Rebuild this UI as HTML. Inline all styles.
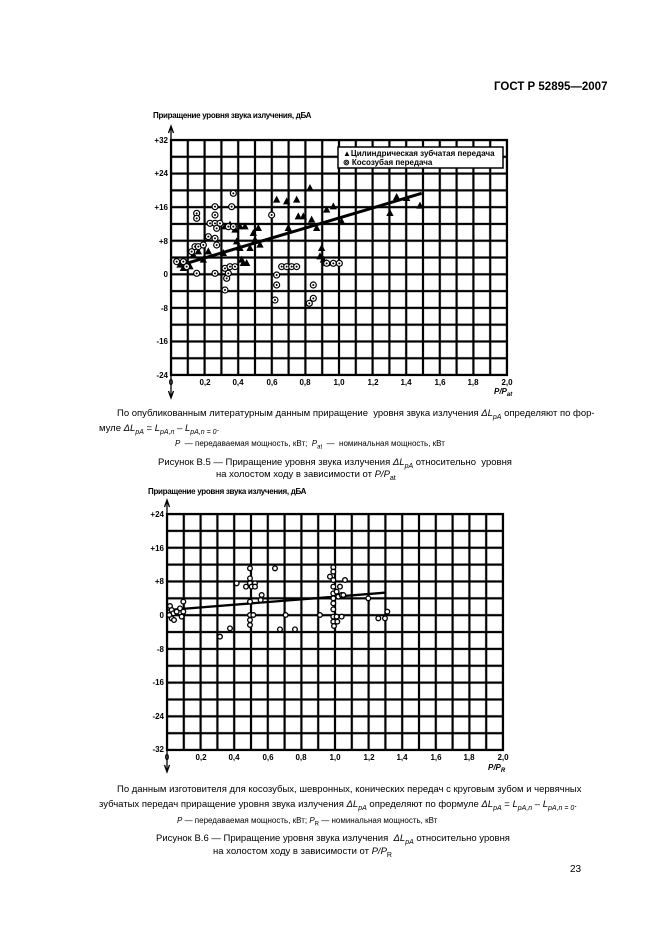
<!DOCTYPE html>
<html><head><meta charset="utf-8"><style>
body{margin:0;background:#fff;width:661px;height:936px;overflow:hidden;position:relative;font-family:"Liberation Sans",Arial,sans-serif;color:#000}
.t{position:absolute;white-space:nowrap}
</style></head><body>
<div class="t" style="left:494px;top:81px;font-size:11.5px;font-weight:bold">ГОСТ Р 52895—2007</div>
<div class="t" style="left:153px;top:111px;font-size:8px;font-weight:bold;letter-spacing:-0.3px">Приращение уровня звука излучения, дБА</div>
<div class="t" style="left:148px;top:487px;font-size:8px;font-weight:bold;letter-spacing:-0.3px">Приращение уровня звука излучения, дБА</div>
<svg width="661" height="936" style="position:absolute;left:0;top:0">
<defs>
<pattern id="g1" x="162.6" y="131.6" width="16.8" height="16.79" patternUnits="userSpaceOnUse"><path d="M0 8.4H16.8M8.4 0V16.8" stroke="#000" stroke-width="2.2" fill="none"/></pattern>
<pattern id="g2" x="158.6" y="505.6" width="16.8" height="16.86" patternUnits="userSpaceOnUse"><path d="M0 8.4H16.8M8.4 0V16.8" stroke="#000" stroke-width="2.2" fill="none"/></pattern>
<path id="tri" d="M0 -13L11 8H-11Z" fill="#000"/>
<g id="cir"><circle r="9" fill="#fff" stroke="#000" stroke-width="3.5"/><circle r="3" fill="#000"/></g>
<circle id="c2" r="7" fill="#fff" stroke="#000" stroke-width="4"/>
</defs>
<rect x="171" y="140" width="336" height="235" fill="url(#g1)" stroke="#000" stroke-width="2.2"/>
<rect x="167" y="514" width="336" height="236" fill="url(#g2)" stroke="#000" stroke-width="2.2"/>
<path d="M171 128V398M168.5 133L171 126L173.5 133M168.5 391L171 398L173.5 391" stroke="#000" stroke-width="1.3" fill="none"/>
<path d="M167 502V772M164.5 507L167 500L169.5 507M164.5 765L167 772L169.5 765" stroke="#000" stroke-width="1.3" fill="none"/>
<rect x="338" y="147" width="165" height="21" fill="#fff" stroke="#000" stroke-width="1.5"/>
<g font-size="8" font-weight="bold" font-family="Liberation Sans,sans-serif">
<text x="343" y="156">▲Цилиндрическая зубчатая передача</text>
<text x="343" y="165">⊚ Косозубая передача</text>
<g text-anchor="end">
<text x="168" y="143">+32</text><text x="168" y="176">+24</text><text x="168" y="210">+16</text><text x="168" y="244">+8</text><text x="168" y="277">0</text><text x="168" y="311">-8</text><text x="168" y="344">-16</text><text x="168" y="378">-24</text>
<text x="164" y="517">+24</text><text x="164" y="551">+16</text><text x="164" y="584">+8</text><text x="164" y="618">0</text><text x="164" y="652">-8</text><text x="164" y="685">-16</text><text x="164" y="719">-24</text><text x="164" y="752">-32</text>
</g>
<g text-anchor="middle">
<text x="171" y="385">0</text><text x="205" y="385">0,2</text><text x="238" y="385">0,4</text><text x="272" y="385">0,6</text><text x="305" y="385">0,8</text><text x="339" y="385">1,0</text><text x="373" y="385">1,2</text><text x="406" y="385">1,4</text><text x="440" y="385">1,6</text><text x="473" y="385">1,8</text><text x="507" y="385">2,0</text>
<text x="167" y="760">0</text><text x="201" y="760">0,2</text><text x="234" y="760">0,4</text><text x="268" y="760">0,6</text><text x="301" y="760">0,8</text><text x="335" y="760">1,0</text><text x="369" y="760">1,2</text><text x="402" y="760">1,4</text><text x="436" y="760">1,6</text><text x="469" y="760">1,8</text><text x="503" y="760">2,0</text>
</g>
<text x="494" y="394" font-style="italic">P/P<tspan font-size="6" dy="2">at</tspan></text>
<text x="488" y="770" font-style="italic">P/P<tspan font-size="6" dy="2">R</tspan></text>
</g>
<g transform="translate(140,100) scale(0.3333)">
<line x1="140" y1="490" x2="845" y2="280" stroke="#000" stroke-width="9"/>
<g>
<use href="#tri" x="120" y="495"/><use href="#tri" x="130" y="505"/><use href="#tri" x="140" y="490"/><use href="#tri" x="150" y="500"/><use href="#tri" x="160" y="465"/><use href="#tri" x="175" y="455"/><use href="#tri" x="190" y="480"/><use href="#tri" x="205" y="455"/><use href="#tri" x="250" y="460"/><use href="#tri" x="255" y="380"/><use href="#tri" x="270" y="375"/><use href="#tri" x="285" y="390"/><use href="#tri" x="300" y="380"/><use href="#tri" x="315" y="380"/><use href="#tri" x="290" y="425"/><use href="#tri" x="300" y="445"/><use href="#tri" x="305" y="480"/><use href="#tri" x="310" y="490"/><use href="#tri" x="320" y="490"/><use href="#tri" x="330" y="445"/><use href="#tri" x="345" y="420"/><use href="#tri" x="340" y="400"/><use href="#tri" x="355" y="385"/><use href="#tri" x="360" y="435"/><use href="#tri" x="410" y="300"/><use href="#tri" x="440" y="305"/><use href="#tri" x="470" y="300"/><use href="#tri" x="475" y="350"/><use href="#tri" x="490" y="350"/><use href="#tri" x="445" y="385"/><use href="#tri" x="510" y="265"/><use href="#tri" x="515" y="360"/><use href="#tri" x="530" y="385"/><use href="#tri" x="545" y="445"/><use href="#tri" x="560" y="330"/><use href="#tri" x="580" y="320"/><use href="#tri" x="605" y="365"/><use href="#tri" x="750" y="340"/><use href="#tri" x="770" y="292"/><use href="#tri" x="800" y="295"/><use href="#tri" x="840" y="318"/><use href="#tri" x="540" y="470"/><use href="#tri" x="550" y="480"/><use href="#tri" x="560" y="490"/>
<use href="#cir" x="110" y="485"/><use href="#cir" x="130" y="485"/><use href="#cir" x="140" y="500"/><use href="#cir" x="155" y="455"/><use href="#cir" x="165" y="440"/><use href="#cir" x="175" y="440"/><use href="#cir" x="190" y="435"/><use href="#cir" x="170" y="340"/><use href="#cir" x="170" y="355"/><use href="#cir" x="170" y="520"/><use href="#cir" x="205" y="410"/><use href="#cir" x="210" y="370"/><use href="#cir" x="225" y="320"/><use href="#cir" x="225" y="345"/><use href="#cir" x="225" y="370"/><use href="#cir" x="225" y="415"/><use href="#cir" x="230" y="435"/><use href="#cir" x="230" y="385"/><use href="#cir" x="225" y="520"/><use href="#cir" x="240" y="370"/><use href="#cir" x="280" y="280"/><use href="#cir" x="275" y="320"/><use href="#cir" x="255" y="570"/><use href="#cir" x="260" y="535"/><use href="#cir" x="255" y="505"/><use href="#cir" x="270" y="500"/><use href="#cir" x="285" y="500"/><use href="#cir" x="265" y="520"/><use href="#cir" x="395" y="345"/><use href="#cir" x="405" y="600"/><use href="#cir" x="410" y="525"/><use href="#cir" x="410" y="555"/><use href="#cir" x="425" y="500"/><use href="#cir" x="440" y="500"/><use href="#cir" x="455" y="500"/><use href="#cir" x="470" y="500"/><use href="#cir" x="520" y="555"/><use href="#cir" x="520" y="595"/><use href="#cir" x="508" y="610"/><use href="#cir" x="560" y="490"/><use href="#cir" x="580" y="490"/><use href="#cir" x="598" y="490"/><use href="#cir" x="265" y="380"/><use href="#cir" x="280" y="380"/>
</g>
</g>
<g transform="translate(140,480) scale(0.3333)">
<line x1="85" y1="390" x2="735" y2="338" stroke="#000" stroke-width="7"/>
<use href="#c2" x="90" y="378"/><use href="#c2" x="95" y="390"/><use href="#c2" x="100" y="400"/><use href="#c2" x="95" y="415"/><use href="#c2" x="102" y="420"/><use href="#c2" x="110" y="395"/><use href="#c2" x="120" y="385"/><use href="#c2" x="125" y="410"/><use href="#c2" x="130" y="365"/><use href="#c2" x="130" y="395"/><use href="#c2" x="88" y="405"/>
<use href="#c2" x="330" y="265"/><use href="#c2" x="330" y="295"/><use href="#c2" x="330" y="310"/><use href="#c2" x="318" y="320"/><use href="#c2" x="335" y="320"/><use href="#c2" x="345" y="310"/><use href="#c2" x="345" y="320"/><use href="#c2" x="330" y="365"/><use href="#c2" x="330" y="405"/><use href="#c2" x="330" y="420"/><use href="#c2" x="330" y="435"/><use href="#c2" x="340" y="405"/>
<use href="#c2" x="290" y="310"/><use href="#c2" x="240" y="470"/><use href="#c2" x="270" y="445"/><use href="#c2" x="365" y="345"/><use href="#c2" x="362" y="360"/><use href="#c2" x="405" y="265"/><use href="#c2" x="420" y="448"/><use href="#c2" x="437" y="405"/><use href="#c2" x="465" y="448"/><use href="#c2" x="540" y="405"/>
<use href="#c2" x="580" y="262"/><use href="#c2" x="580" y="275"/><use href="#c2" x="580" y="300"/><use href="#c2" x="580" y="320"/><use href="#c2" x="580" y="340"/><use href="#c2" x="580" y="355"/><use href="#c2" x="580" y="370"/><use href="#c2" x="580" y="388"/><use href="#c2" x="580" y="410"/><use href="#c2" x="580" y="425"/><use href="#c2" x="582" y="438"/><use href="#c2" x="570" y="290"/><use href="#c2" x="590" y="335"/><use href="#c2" x="595" y="350"/><use href="#c2" x="600" y="320"/><use href="#c2" x="605" y="345"/><use href="#c2" x="590" y="410"/><use href="#c2" x="592" y="425"/><use href="#c2" x="605" y="410"/><use href="#c2" x="615" y="300"/><use href="#c2" x="610" y="345"/><use href="#c2" x="685" y="355"/><use href="#c2" x="715" y="415"/><use href="#c2" x="735" y="415"/><use href="#c2" x="742" y="395"/>
</g>
</svg>
<div class="t" style="left:117px;top:408px;font-size:9.5px">По опубликованным литературным данным приращение&nbsp; уровня звука излучения <i>ΔL<sub style="font-size:7px">pA</sub></i> определяют по фор-</div>
<div class="t" style="left:99px;top:423px;font-size:9.5px">муле <i>ΔL<sub style="font-size:7px">pA</sub></i> = <i>L<sub style="font-size:7px">pA,n</sub></i> – <i>L<sub style="font-size:7px">pA,n = 0</sub></i>.</div>
<div class="t" style="left:175px;top:439px;font-size:8px"><i>P</i> &nbsp;— передаваемая мощность, кВт; &nbsp;<i>P</i><sub style="font-size:6px">at</sub> &nbsp;— &nbsp;номинальная мощность, кВт</div>
<div class="t" style="left:158px;top:457px;font-size:9.5px">Рисунок В.5 — Приращение уровня звука излучения <i>ΔL<sub style="font-size:7px">pA</sub></i> относительно&nbsp; уровня</div>
<div class="t" style="left:216px;top:469px;font-size:9.5px">на холостом ходу в зависимости от <i>P/P</i><sub style="font-size:7px">at</sub></div>
<div class="t" style="left:117px;top:784px;font-size:9.5px">По данным изготовителя для косозубых, шевронных, конических передач с круговым зубом и червячных</div>
<div class="t" style="left:99px;top:799px;font-size:9.5px">зубчатых передач приращение уровня звука излучения <i>ΔL<sub style="font-size:7px">pA</sub></i> определяют по формуле <i>ΔL<sub style="font-size:7px">pA</sub></i> = <i>L<sub style="font-size:7px">pA,n</sub></i> – <i>L<sub style="font-size:7px">pA,n = 0</sub></i>.</div>
<div class="t" style="left:177px;top:816px;font-size:8px"><i>P</i> — передаваемая мощность, кВт; <i>P</i><sub style="font-size:6px">R</sub> — номинальная мощность, кВт</div>
<div class="t" style="left:156px;top:833px;font-size:9.5px">Рисунок В.6 — Приращение уровня звука излучения &nbsp;<i>ΔL<sub style="font-size:7px">pA</sub></i> относительно уровня</div>
<div class="t" style="left:213px;top:846px;font-size:9.5px">на холостом ходу в зависимости от <i>P/P</i><sub style="font-size:7px">R</sub></div>
<div class="t" style="left:570px;top:864px;font-size:10px">23</div>
</body></html>
